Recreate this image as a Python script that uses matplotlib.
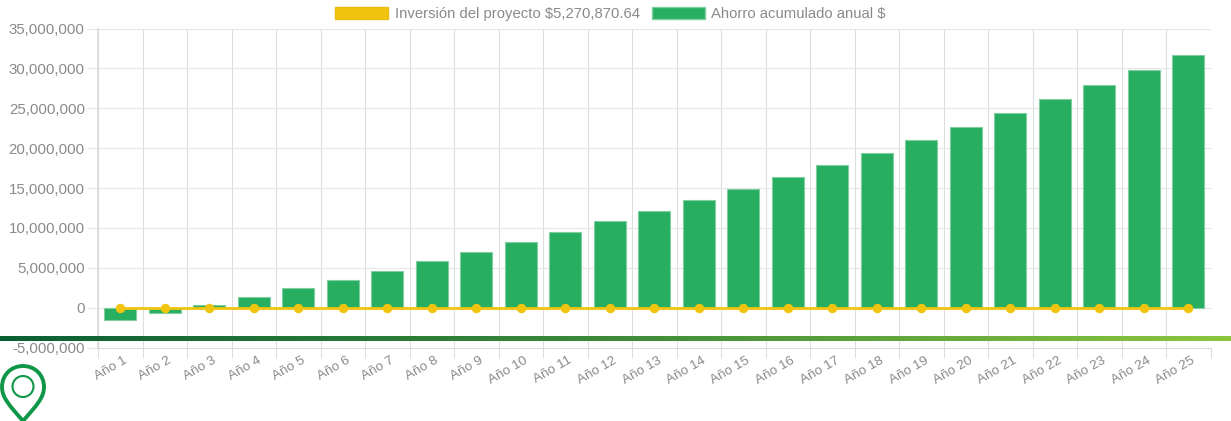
import numpy as np
import matplotlib
matplotlib.use("Agg")
import matplotlib.pyplot as plt
from matplotlib.patches import Patch, PathPatch, Circle
from matplotlib.path import Path
from matplotlib.colors import LinearSegmentedColormap
from matplotlib.transforms import ScaledTranslation, Affine2D

categories = [f"Año {i}" for i in range(1, 26)]
ahorro = [-1570000, -700000, 300000, 1350000, 2450000, 3500000, 4650000, 5800000,
          7000000, 8200000, 9500000, 10800000, 12100000, 13500000, 14900000, 16400000,
          17900000, 19450000, 21050000, 22700000, 24400000, 26150000, 27950000, 29850000, 31700000]
inversion = [0] * 25
legend_inv = "Inversión del proyecto $5,270,870.64"
legend_aho = "Ahorro acumulado anual $"
yticks = [-5000000, 0, 5000000, 10000000, 15000000, 20000000, 25000000, 30000000, 35000000]

W, H = 1231, 421
plt.rcParams['font.family'] = ['Liberation Sans', 'DejaVu Sans']
fig = plt.figure(figsize=(W/100, H/100), dpi=100)
L, R, T, B = 98, 1210.5, 28.5, 347.5
ax = fig.add_axes([L/W, 1-B/H, (R-L)/W, (B-T)/H])
x = np.arange(25)
ax.set_axisbelow(True)
ax.bar(x, ahorro, width=0.72, color="#27ae60", edgecolor="#7fcfa0", linewidth=0.8, zorder=2)
ax.plot(x, inversion, color="#f1c40f", lw=2.0, marker="o", ms=5.8, mec="#f1c40f", zorder=3, clip_on=False)
ax.set_xlim(-0.5, 24.5)
ax.set_ylim(-5000000, 35000000)
ax.set_yticks(yticks)
ax.set_yticklabels([f"{v:,}" for v in yticks], fontsize=10.8, color="#8a8a8a")
ax.set_xticks(x)
ax.set_xticklabels(categories, fontsize=9.7, color="#8a8a8a", rotation=30, ha="right", rotation_mode="anchor")
ax.set_xticks(np.arange(-0.5, 25, 1), minor=True)
ax.tick_params(axis="x", which="major", length=0, pad=5)
ax.tick_params(axis="x", which="minor", length=7, color="#dddddd", width=0.8)
ax.tick_params(axis="y", length=8, color="#e6e6e6", width=0.8, pad=1.5)
off = ScaledTranslation(3/100, 0, fig.dpi_scale_trans)
for lb in ax.get_xticklabels():
    lb.set_transform(lb.get_transform() + off)
ax.grid(axis="y", color="#e6e6e6", lw=0.8)
ax.grid(axis="x", which="minor", color="#dedede", lw=0.8)
for s in ("top", "right"):
    ax.spines[s].set_visible(False)
ax.spines["left"].set_color("#d8d8d8")
ax.spines["left"].set_linewidth(1.1)
ax.spines["bottom"].set_color("#dcdcdc")

handles = [Patch(facecolor="#f1c40f", edgecolor="#e8bc10"), Patch(facecolor="#27ae60", edgecolor="#7fcfa0")]
fig.legend(handles, [legend_inv, legend_aho], loc="center", bbox_to_anchor=(610.5/W, 1-14/H), ncol=2,
           frameon=False, fontsize=10.7, labelcolor="#8a8a8a", handlelength=3.56, handleheight=0.9,
           handletextpad=0.45, columnspacing=0.8, borderpad=0)

# gradient band
bax = fig.add_axes([0, 1-341/H, 1, 5.5/H], zorder=5)
cmap = LinearSegmentedColormap.from_list("band", ["#0b5f34", "#3d8b3a", "#8cc63f"])
bax.imshow(np.linspace(0, 1, 512)[None, :], aspect="auto", cmap=cmap)
bax.axis("off")

# location pin in pixel coordinates
px = Affine2D().scale(1, -1).translate(0, H)
verts = [(23, 421), (10, 406), (2, 398), (2, 387), (2, 375), (11, 366), (23, 366),
         (35, 366), (44, 375), (44, 387), (44, 398), (36, 406), (23, 421)]
codes = [Path.MOVETO] + [Path.CURVE4] * 12
fig.add_artist(PathPatch(Path(verts, codes), fc="none", ec="#0f9648", lw=2.8, transform=px))
fig.add_artist(Circle((23, 386.5), 10.5, fc="none", ec="#0f9648", lw=1.5, transform=px))

fig.savefig("out.png", dpi=100)
